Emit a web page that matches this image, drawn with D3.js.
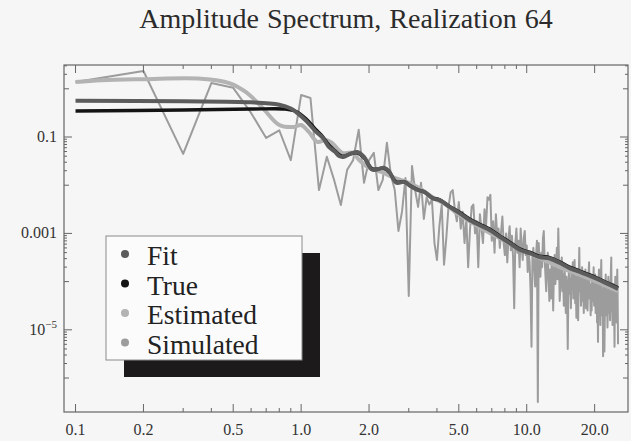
<!DOCTYPE html>
<html>
<head>
<meta charset="utf-8">
<script src="https://cdn.jsdelivr.net/npm/d3@7"></script>
<style>
  html, body { margin: 0; padding: 0; background: #f6f6f6; }
  svg { display: block; font-family: "Liberation Serif", "Times New Roman", serif; }
</style>
</head>
<body>
<div id="chart"></div>
<script>
// values are log10 of the amplitude
const fitFreq = [0.1, 0.3, 0.6, 0.8, 0.9, 0.96, 1.05, 1.17, 1.25, 1.33, 1.41, 1.48, 1.55, 1.63, 1.77, 1.9, 2.07, 2.34, 2.46, 2.64,
    2.87, 3.02, 3.28, 3.52, 3.82, 4.11, 4.55, 5.04, 5.58, 6.18, 6.85, 7.59, 8.4, 9.31, 10.3, 11.4, 12.65, 14.0, 15.5, 17.2,
    19.05, 21.1, 23.4, 25.4];
const fitLog = [-0.25, -0.26, -0.28, -0.33, -0.41, -0.50, -0.66, -0.90, -1.02, -1.21, -1.30, -1.40, -1.41, -1.36, -1.31, -1.41, -1.68, -1.64, -1.72, -1.95,
    -1.93, -2.00, -2.10, -2.14, -2.27, -2.31, -2.45, -2.58, -2.72, -2.83, -2.93, -3.07, -3.20, -3.34, -3.41, -3.49, -3.52, -3.61, -3.72, -3.80,
    -3.88, -3.97, -4.07, -4.15];

const trueFreq = [0.1, 0.3, 0.6, 0.85, 0.95, 1.05, 1.17, 1.25, 1.33, 1.41, 1.48, 1.55, 1.63, 1.77, 1.9, 2.07, 2.34, 2.46, 2.64, 2.87,
    3.02, 3.28, 3.52, 3.82, 4.11, 4.55, 5.04, 5.58, 6.18, 6.85, 7.59, 8.4, 9.31, 10.3, 11.4, 12.65, 14.0, 15.5, 17.2, 19.05,
    21.1, 23.4, 25.4];
const trueLog = [-0.46, -0.44, -0.42, -0.42, -0.47, -0.62, -0.86, -1.00, -1.17, -1.28, -1.37, -1.40, -1.36, -1.33, -1.43, -1.66, -1.65, -1.73, -1.93, -1.93,
    -2.00, -2.09, -2.14, -2.26, -2.30, -2.44, -2.56, -2.70, -2.81, -2.91, -3.05, -3.18, -3.32, -3.39, -3.47, -3.50, -3.59, -3.70, -3.78, -3.86,
    -3.95, -4.05, -4.13];

const estFreq = [0.1, 0.13, 0.2, 0.36, 0.48, 0.57, 0.67, 0.8, 0.93, 1.0, 1.085, 1.18, 1.29, 1.37, 1.52, 1.69, 1.81, 2.0, 2.29, 2.54,
    2.93, 3.35, 3.82, 4.41, 4.89, 5.04, 6.18, 7.59, 9.31, 11.4, 14.0, 17.2, 21.1, 25.4];
const estLog = [0.14, 0.18, 0.20, 0.21, 0.12, -0.07, -0.38, -0.75, -0.79, -0.75, -0.90, -1.10, -1.06, -1.12, -1.33, -1.33, -1.48, -1.64, -1.73, -1.83,
    -1.93, -2.06, -2.25, -2.41, -2.58, -2.62, -2.87, -3.10, -3.32, -3.51, -3.70, -3.86, -4.03, -4.20];

// simulated spectrum, one value every 0.1 in frequency (0.1 .. 25.4)
const simLog = [
    0.14, 0.37, -1.35, 0.12, 0.02, -0.50, -1.02, -0.86, -1.48, -0.13,
    -0.19, -2.10, -1.41, -1.89, -2.41, -1.68, -1.48, -0.85, -1.95, -1.48,
    -1.33, -2.10, -1.89, -1.12, -1.79, -2.10, -2.95, -2.55, -1.85, -4.30,
    -1.60, -2.10, -2.45, -1.95, -2.70, -2.25, -2.40, -2.30, -3.20, -3.55,
    -2.85, -2.40, -3.65, -3.10, -2.45, -2.15, -2.10, -2.50, -2.75, -2.35,
    -2.90, -2.55, -3.20, -2.70, -3.70, -2.95, -2.45, -2.40, -3.00, -2.75,
    -3.70, -2.60, -2.90, -3.20, -2.50, -2.85, -2.25, -2.30, -2.20, -3.15,
    -2.75, -3.40, -2.60, -3.05, -2.90, -3.30, -2.95, -2.65, -3.20, -3.45,
    -3.00, -3.60, -3.10, -2.85, -3.35, -3.05, -3.50, -4.55, -3.20, -2.90,
    -3.40, -3.15, -3.70, -2.90, -3.30, -3.55, -3.10, -2.95, -3.45, -3.25,
    -3.80, -3.40, -3.60, -4.20, -5.35, -3.50, -3.30, -3.75, -4.10, -3.45,
    -3.15, -6.50, -3.20, -3.60, -3.90, -3.40, -3.70, -3.10, -2.95, -3.50,
    -3.85, -4.20, -3.60, -3.40, -3.95, -4.40, -3.75, -4.35, -3.55, -3.90,
    -4.60, -3.80, -3.45, -4.05, -3.70, -3.30, -3.95, -2.90, -3.60, -4.40,
    -4.10, -3.75, -3.50, -4.20, -3.85, -4.50, -3.65, -4.00, -4.65, -3.90,
    -4.30, -5.40, -4.10, -3.70, -4.25, -3.95, -4.55, -3.80, -4.15, -3.60,
    -4.35, -4.00, -3.55, -4.45, -3.90, -4.75, -4.10, -3.75, -4.80, -3.95,
    -3.30, -4.20, -3.85, -4.50, -4.05, -3.70, -4.40, -4.10, -4.65, -3.90,
    -4.30, -3.75, -4.55, -4.20, -3.95, -4.60, -4.15, -3.80, -3.60, -4.35,
    -4.05, -4.70, -4.25, -4.60, -3.90, -4.40, -4.10, -3.70, -4.50, -4.20,
    -3.85, -4.65, -4.30, -4.00, -4.85, -4.40, -5.25, -4.10, -3.75, -4.55,
    -4.20, -4.90, -3.95, -3.55, -4.45, -4.70, -4.15, -5.55, -4.35, -4.05,
    -5.45, -4.60, -4.25, -3.85, -4.70, -4.40, -4.10, -4.95, -4.50, -3.90,
    -4.65, -4.30, -4.00, -4.80, -4.45, -3.80, -3.50, -4.60, -4.20, -4.90,
    -4.35, -4.05, -4.75, -4.50, -5.35, -4.20, -3.90, -4.60, -4.30, -4.85,
    -4.10, -3.75, -4.40, -5.30
];
const simFreq = simLog.map((d, i) => (i + 1) / 10);

const xTickVals = [0.1, 0.2, 0.5, 1, 2, 5, 10, 20];
const xTickLabels = ["0.1", "0.2", "0.5", "1.0", "2.0", "5.0", "10.0", "20.0"];
const yTickExp = [-1, -3, -5];
const yTickLabels = ["0.1", "0.001", "10|−5"];

const legendNames = ["Fit", "True", "Estimated", "Simulated"];
const legendColors = ["#5c5c5c", "#141414", "#b3b3b3", "#9c9c9c"];

const W = 631, H = 441;
const plot = { left: 64, right: 628, top: 65, bottom: 412 };

const svg = d3.select("#chart").append("svg")
    .attr("width", W)
    .attr("height", H)
    .attr("viewBox", "0 0 " + W + " " + H);

svg.append("rect").attr("width", W).attr("height", H).attr("fill", "#f6f6f6");

const x = d3.scaleLog()
    .domain([Math.pow(10, -1.0511), Math.pow(10, 1.4489)])
    .range([plot.left, plot.right]);
const y = d3.scaleLog()
    .domain([Math.pow(10, -6.705), Math.pow(10, 0.494)])
    .range([plot.bottom, plot.top]);

svg.append("text")
    .attr("x", 346).attr("y", 28)
    .attr("text-anchor", "middle")
    .attr("font-size", 28)
    .attr("word-spacing", 1)
    .attr("fill", "#2b2b2b")
    .text("Amplitude Spectrum, Realization 64");

svg.append("clipPath").attr("id", "clip")
    .append("rect")
    .attr("x", plot.left).attr("y", plot.top)
    .attr("width", plot.right - plot.left).attr("height", plot.bottom - plot.top);

const pts = (fs, ls) => fs.map((f, i) => [f, Math.pow(10, ls[i])]);

const straight = d3.line().x(d => x(d[0])).y(d => y(d[1]));
const smooth = d3.line().x(d => x(d[0])).y(d => y(d[1])).curve(d3.curveCatmullRom.alpha(0.5));

const g = svg.append("g").attr("clip-path", "url(#clip)");

g.append("path")
    .attr("d", straight(pts(simFreq, simLog)))
    .attr("fill", "none")
    .attr("stroke", legendColors[3])
    .attr("stroke-width", 2)
    .attr("stroke-linejoin", "round");

g.append("path")
    .attr("d", smooth(pts(estFreq, estLog)))
    .attr("fill", "none")
    .attr("stroke", legendColors[2])
    .attr("stroke-width", 4);

g.append("path")
    .attr("d", smooth(pts(trueFreq, trueLog)))
    .attr("fill", "none")
    .attr("stroke", legendColors[1])
    .attr("stroke-width", 3.4);

g.append("path")
    .attr("d", smooth(pts(fitFreq, fitLog)))
    .attr("fill", "none")
    .attr("stroke", legendColors[0])
    .attr("stroke-width", 4);

// frame
svg.append("rect")
    .attr("x", plot.left).attr("y", plot.top)
    .attr("width", plot.right - plot.left).attr("height", plot.bottom - plot.top)
    .attr("fill", "none")
    .attr("stroke", "#666")
    .attr("stroke-width", 1.2);

// ticks, inward on all four sides
const ticks = svg.append("g").attr("stroke", "#666").attr("stroke-width", 1);

const xMinor = [];
[0.1, 1, 10].forEach(dec => [3, 4, 6, 7, 8, 9].forEach(j => {
    const v = dec * j;
    if (v < x.domain()[1]) xMinor.push(v);
}));

function xTick(v, len) {
    ticks.append("line").attr("x1", x(v)).attr("x2", x(v)).attr("y1", plot.bottom).attr("y2", plot.bottom - len);
    ticks.append("line").attr("x1", x(v)).attr("x2", x(v)).attr("y1", plot.top).attr("y2", plot.top + len);
}
xTickVals.forEach(v => xTick(v, 8));
xMinor.forEach(v => xTick(v, 4));

function yTick(v, len) {
    ticks.append("line").attr("y1", y(v)).attr("y2", y(v)).attr("x1", plot.left).attr("x2", plot.left + len);
    ticks.append("line").attr("y1", y(v)).attr("y2", y(v)).attr("x1", plot.right).attr("x2", plot.right - len);
}
yTickExp.forEach(e => yTick(Math.pow(10, e), 8));
[0, -2, -4, -6].forEach(e => {
    for (let j = 1; j <= 9; j++) {
        const v = j * Math.pow(10, e);
        if (v > y.domain()[0] && v < y.domain()[1]) yTick(v, j === 1 ? 5 : 3);
    }
});

svg.append("g").selectAll("text")
    .data(xTickVals)
    .join("text")
    .attr("x", d => x(d))
    .attr("y", 435)
    .attr("text-anchor", "middle")
    .attr("font-size", 16)
    .attr("fill", "#333")
    .text((d, i) => xTickLabels[i]);

const yLab = svg.append("g").selectAll("text")
    .data(yTickExp)
    .join("text")
    .attr("x", 57)
    .attr("y", d => y(Math.pow(10, d)) + 5)
    .attr("text-anchor", "end")
    .attr("font-size", 16)
    .attr("fill", "#333");
yLab.each(function (d, i) {
    const parts = yTickLabels[i].split("|");
    const t = d3.select(this);
    t.append("tspan").text(parts[0]);
    if (parts[1]) {
        t.append("tspan").attr("dy", -7).attr("font-size", 11).text(parts[1]);
    }
});

// legend with drop shadow
const lg = { x: 106, y: 236, w: 196, h: 124, dx: 18, dy: 17 };
svg.append("rect")
    .attr("x", lg.x + lg.dx).attr("y", lg.y + lg.dy)
    .attr("width", lg.w).attr("height", lg.h)
    .attr("fill", "#1d1a1c");
svg.append("rect")
    .attr("x", lg.x).attr("y", lg.y)
    .attr("width", lg.w).attr("height", lg.h)
    .attr("fill", "#fbfbfb")
    .attr("stroke", "#8a8a8a")
    .attr("stroke-width", 1);

const items = svg.append("g").selectAll("g")
    .data(legendNames)
    .join("g")
    .attr("transform", (d, i) => "translate(0," + (254 + i * 29.5) + ")");
items.append("circle")
    .attr("cx", 125).attr("cy", 0).attr("r", 4)
    .attr("fill", (d, i) => legendColors[i]);
items.append("text")
    .attr("x", 147).attr("y", 11)
    .attr("font-size", 27.5)
    .attr("fill", "#222")
    .text(d => d);
</script>
</body>
</html>
